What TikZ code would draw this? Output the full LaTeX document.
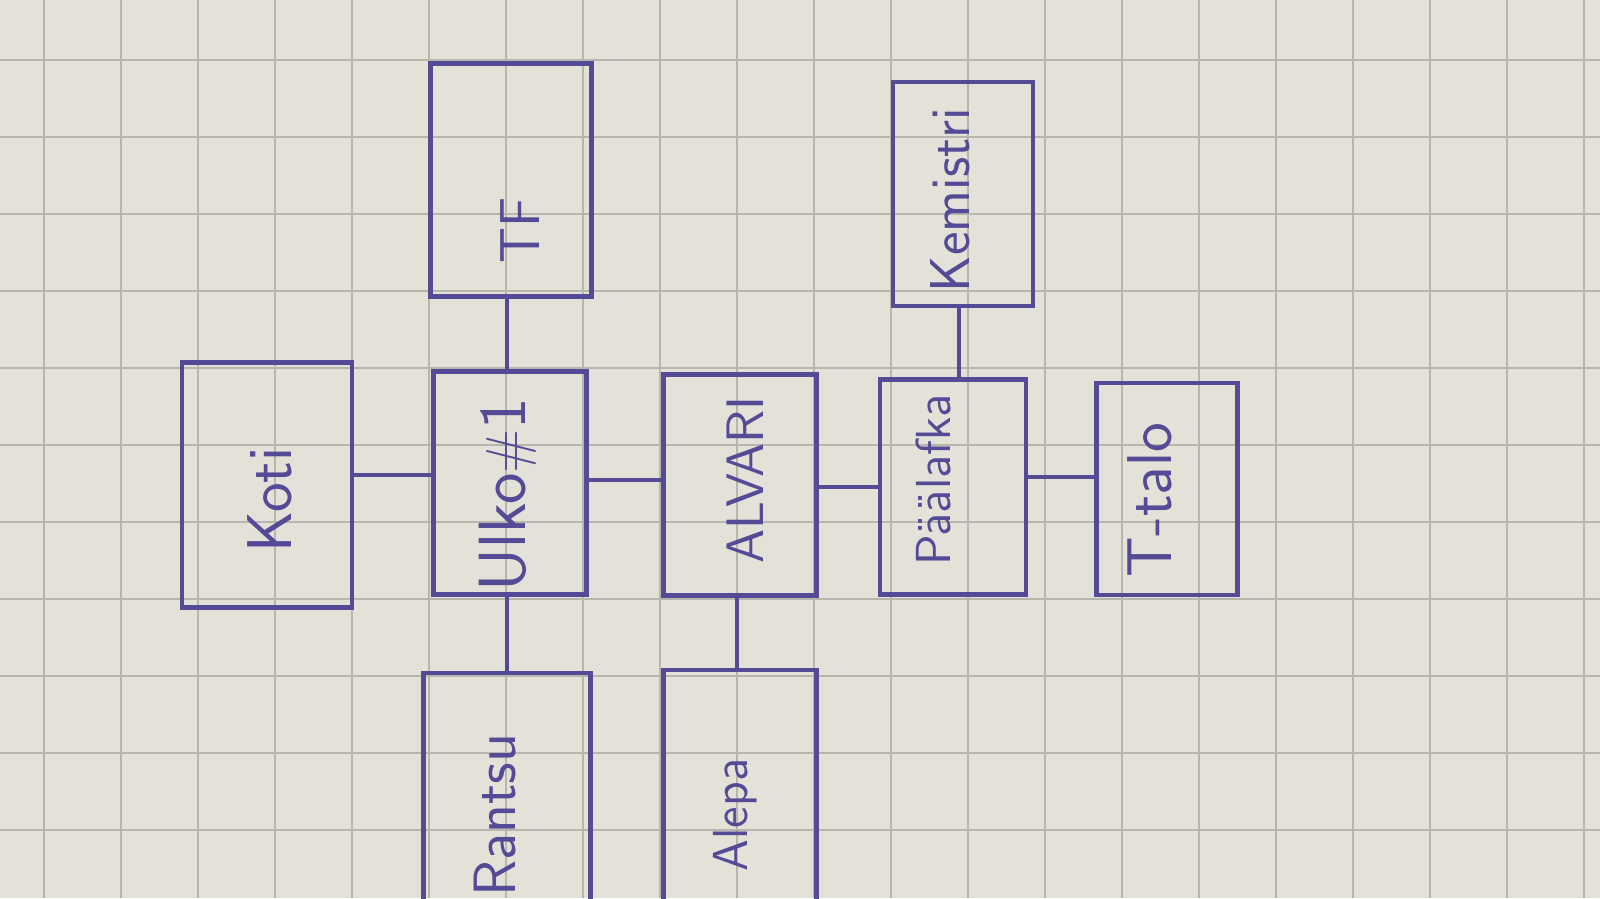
\documentclass[tikz,border=0pt]{standalone}
\usepackage{tikz}
\usetikzlibrary{calc,positioning,backgrounds}
\definecolor{ink}{RGB}{84,74,150}
\definecolor{paper}{RGB}{228,226,216}
\definecolor{gridline}{RGB}{184,182,172}

\begin{document}
\begin{tikzpicture}

\tikzset{box/.style={draw=ink,line width=1.2pt,inner sep=0pt,shape=rectangle},
lbl/.style={rotate=90,text=ink,inner sep=0pt,font=\sffamily\fontsize{18}{20}\selectfont},
wire/.style={draw=ink,line width=1.2pt}}

% Paper
\useasboundingbox (0,0) rectangle (16,-8.98);
\clip (0,0) rectangle (16,-8.98);
\fill[paper] (0,0) rectangle (16,-8.98);
\foreach \x in {0.44,1.21,...,16} \draw[gridline,line width=0.4pt] (\x,0) -- (\x,-8.98);
\foreach \y in {0.60,1.37,...,9} \draw[gridline,line width=0.4pt] (0,-\y) -- (16,-\y);

% Boxes
\node[box,minimum width=1.70cm,minimum height=2.45cm] (koti) at (2.67,-4.85) {};
\node[box,minimum width=1.61cm,minimum height=2.33cm] (tf) at (5.11,-1.80) {};
\node[box,minimum width=1.53cm,minimum height=2.23cm] (ulko) at (5.10,-4.83) {};
\node[box,minimum width=1.53cm,minimum height=2.21cm] (alvari) at (7.40,-4.85) {};
\node[box,minimum width=1.40cm,minimum height=2.24cm] (kem) at (9.63,-1.94) {};
\node[box,minimum width=1.46cm,minimum height=2.15cm] (paa) at (9.53,-4.87) {};
\node[box,minimum width=1.41cm,minimum height=2.12cm] (ttalo) at (11.67,-4.89) {};
\node[box,minimum width=1.67cm,minimum height=2.80cm,anchor=north] (rantsu) at (5.07,-6.71) {};
\node[box,minimum width=1.53cm,minimum height=2.80cm,anchor=north] (alepa) at (7.40,-6.68) {};

% Labels
\node[lbl] (kotiT) at (2.70,-5.00) {Koti};
\node[lbl,font=\sffamily\fontsize{16}{18}\selectfont] (tfT) at (5.20,-2.30) {TF};
\node[lbl,font=\sffamily\fontsize{19}{22}\selectfont] (ulkoT) at (5.08,-4.95) {Ulko{\fontsize{16}{18}\selectfont\#}1};
\node[lbl,font=\sffamily\fontsize{15}{18}\selectfont] (alvariT) at (7.45,-4.80) {ALVARI};
\node[lbl,font=\sffamily\fontsize{14}{16}\selectfont] (paaT) at (9.33,-4.80) {Päälafka};
\node[lbl,font=\sffamily\fontsize{16}{18}\selectfont] (kemT) at (9.50,-2.00) {Kemistri};
\node[lbl] (ttaloT) at (11.50,-5.00) {T-talo};
\node[lbl,font=\sffamily\fontsize{17}{20}\selectfont] (rantsuT) at (4.95,-8.15) {Rantsu};
\node[lbl,font=\sffamily\fontsize{14}{16}\selectfont] (alepaT) at (7.35,-8.15) {Alepa};

% Edges
\draw[wire] ([yshift=1mm]koti.east) -- ([yshift=1mm]koti.east -| ulko.west);
\draw[wire] ([xshift=-0.3mm]ulko.north) -- ([xshift=-0.3mm]ulko.north |- tf.south);
\draw[wire] ([yshift=0.3mm]ulko.east) -- ([yshift=0.3mm]ulko.east -| alvari.west);
\draw[wire] ([xshift=-0.3mm]ulko.south) -- ([xshift=-0.3mm]ulko.south |- rantsu.north);
\draw[wire] ([xshift=-0.3mm]alvari.south) -- ([xshift=-0.3mm]alvari.south |- alepa.north);
\draw[wire] ([yshift=-0.2mm]alvari.east) -- ([yshift=-0.2mm]alvari.east -| paa.west);
\draw[wire] ([xshift=0.6mm]paa.north) -- ([xshift=0.6mm]paa.north |- kem.south);
\draw[wire] ([yshift=1mm]paa.east) -- ([yshift=1mm]paa.east -| ttalo.west);

\end{tikzpicture}
\end{document}
